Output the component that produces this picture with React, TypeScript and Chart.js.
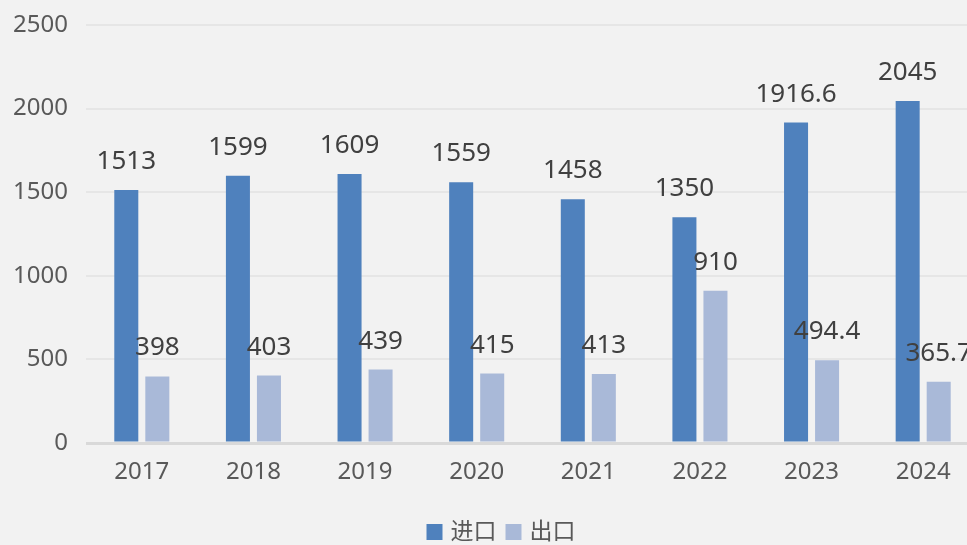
import React, { useEffect, useRef } from "react";
import { Chart, registerables } from "chart.js";
Chart.register(...registerables);

const categories = ["2017", "2018", "2019", "2020", "2021", "2022", "2023", "2024"];
const importValues = [1513, 1599, 1609, 1559, 1458, 1350, 1916.6, 2045];
const exportValues = [398, 403, 439, 415, 413, 910, 494.4, 365.7];
const yTicks = [0, 500, 1000, 1500, 2000, 2500];

const FONT = "'Noto Sans', 'Noto Sans CJK SC', sans-serif";

const labelPlugin = {
  id: "barLabels",
  afterDatasetsDraw(chart: any) {
    const ctx = chart.ctx;
    ctx.save();
    ctx.font = `26px ${FONT}`;
    ctx.fillStyle = "#404040";
    ctx.textAlign = "center";
    ctx.textBaseline = "alphabetic";
    chart.data.datasets.forEach((ds: any, i: number) => {
      const meta = chart.getDatasetMeta(i);
      meta.data.forEach((bar: any, j: number) => {
        ctx.fillText(String(ds.data[j]), bar.x, bar.y - 21);
      });
    });
    ctx.restore();
  },
};

const legendPlugin = {
  id: "customLegend",
  afterDraw(chart: any) {
    const ctx = chart.ctx;
    ctx.save();
    ctx.font = `23px ${FONT}`;
    ctx.textBaseline = "middle";
    ctx.textAlign = "left";
    const box = 16, gapBox = 8, gapItem = 9;
    const items = chart.data.datasets.map((ds: any) => ({
      label: ds.label,
      color: ds.backgroundColor,
      w: ctx.measureText(ds.label).width,
    }));
    const total = items.reduce((s: number, it: any) => s + box + gapBox + it.w, 0) + gapItem * (items.length - 1);
    let x = chart.width / 2 - total / 2;
    const cy = chart.height - 13;
    items.forEach((it: any) => {
      ctx.fillStyle = it.color;
      ctx.fillRect(x, cy - box / 2, box, box);
      x += box + gapBox;
      ctx.fillStyle = "#595959";
      ctx.fillText(it.label, x, cy);
      x += it.w + gapItem;
    });
    ctx.restore();
  },
};

const bgPlugin = {
  id: "bg",
  beforeDraw(chart: any) {
    const ctx = chart.ctx;
    ctx.save();
    ctx.fillStyle = "#f2f2f2";
    ctx.fillRect(0, 0, chart.width, chart.height);
    ctx.restore();
  },
};

export default function App() {
  const ref = useRef<HTMLCanvasElement>(null);
  useEffect(() => {
    document.body.style.margin = "0";
    document.body.style.overflow = "hidden";
    document.body.style.background = "#f2f2f2";
    const chart = new Chart(ref.current!, {
      type: "bar",
      data: {
        labels: categories,
        datasets: [
          { label: "进口", data: importValues, backgroundColor: "#4f81bd", categoryPercentage: 0.556, barPercentage: 0.774 },
          { label: "出口", data: exportValues, backgroundColor: "#a9b9d8", categoryPercentage: 0.556, barPercentage: 0.774 },
        ],
      },
      options: {
        responsive: false,
        animation: false,
        layout: { padding: { top: 25, right: 23, left: 0, bottom: 57 } },
        plugins: {
          tooltip: { enabled: false },
          legend: { display: false },
        },
        scales: {
          x: {
            grid: { display: false },
            border: { display: false },
            afterFit: (axis: any) => {
              axis.height = 45;
            },
            ticks: { color: "#595959", font: { size: 24, family: FONT }, padding: 7 },
          },
          y: {
            min: 0,
            max: 2500,
            afterBuildTicks: (axis: any) => {
              axis.ticks = yTicks.map((v) => ({ value: v }));
            },
            afterFit: (axis: any) => {
              axis.width = 86;
              axis.paddingTop = 0;
              axis.paddingBottom = 0;
            },
            border: { display: false },
            grid: {
              drawTicks: false,
              color: (c: any) => (c.tick && c.tick.value === 0 ? "#d9d9d9" : "#e6e6e6"),
              lineWidth: (c: any) => (c.tick && c.tick.value === 0 ? 3 : 2),
            },
            ticks: {
              color: "#595959",
              font: { size: 24, family: FONT },
              padding: 18,
              callback: (v: any) => String(v),
            },
          },
        },
      },
      plugins: [bgPlugin, labelPlugin, legendPlugin],
    } as any);
    return () => chart.destroy();
  }, []);
  return (
    <div style={{ position: "absolute", left: 0, top: 0, width: 967, height: 545, overflow: "hidden", background: "#f2f2f2" }}>
      <canvas ref={ref} width={1002} height={545} style={{ display: "block" }} />
    </div>
  );
}
